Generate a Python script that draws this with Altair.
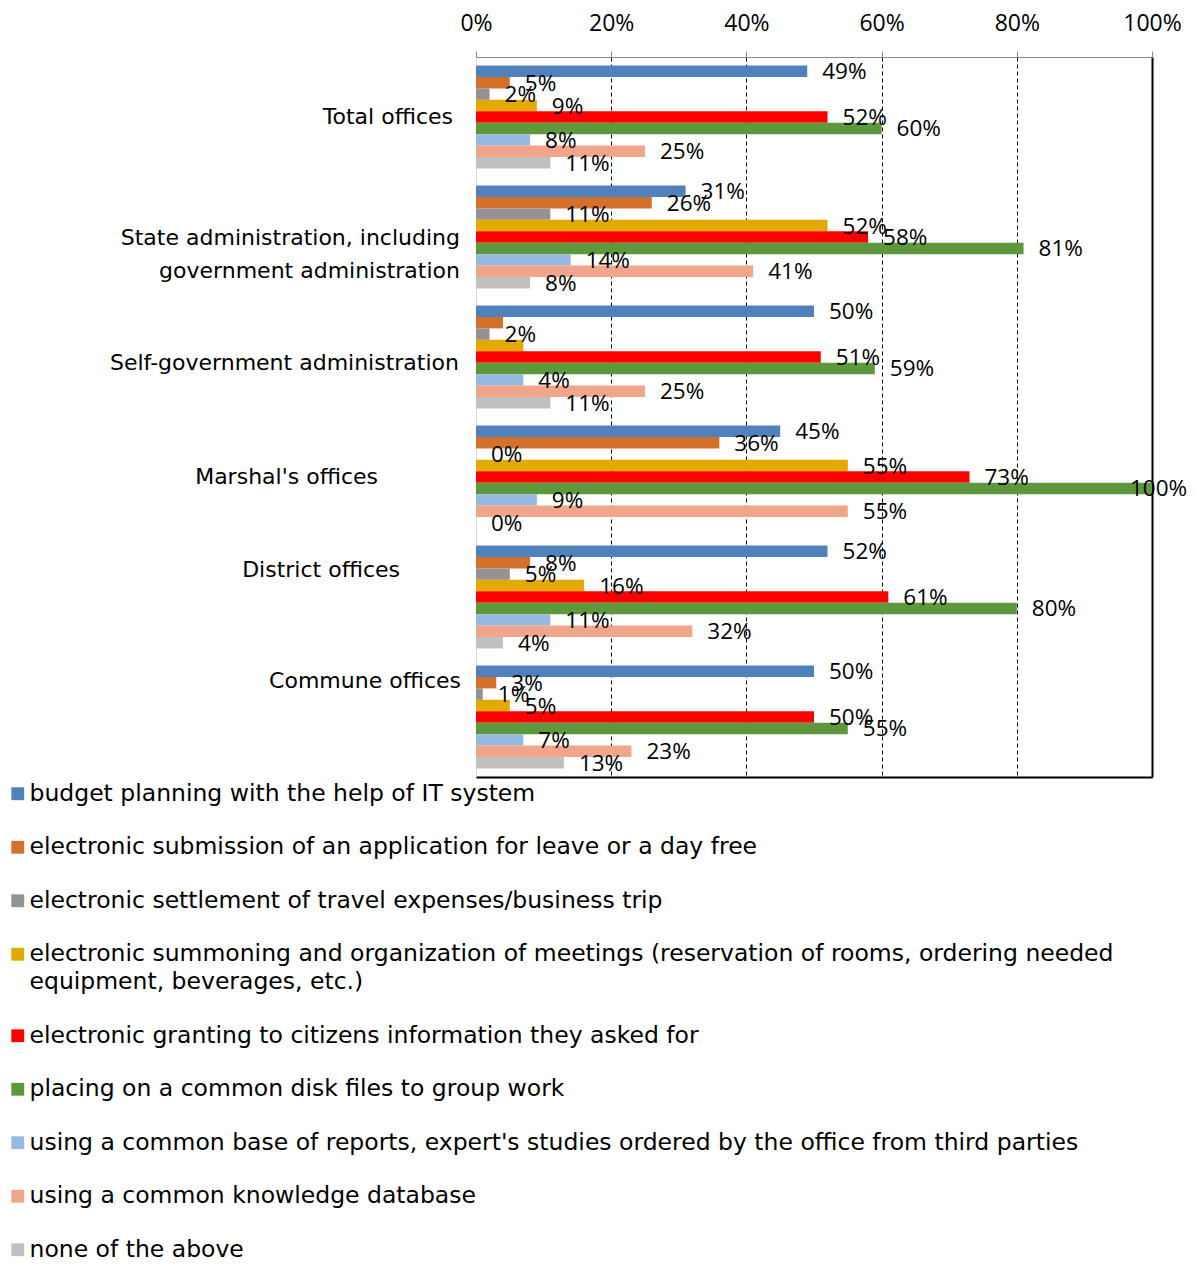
import json
import altair as alt
import pandas as pd

categories = [
    "Total offices",
    "State administration, including government administration",
    "Self-government administration",
    "Marshal's offices",
    "District offices",
    "Commune offices",
]
series = [
    "budget planning with the help of IT system",
    "electronic submission of an application for leave or a day free",
    "electronic settlement of travel expenses/business trip",
    "electronic summoning and organization of meetings (reservation of rooms, ordering needed equipment, beverages, etc.)",
    "electronic granting to citizens information they asked for",
    "placing on a common disk files to group work",
    "using a common base of reports, expert's studies ordered by the office from third parties",
    "using a common knowledge database",
    "none of the above",
]
budget = [49, 31, 50, 45, 52, 50]
leave = [5, 26, 4, 36, 8, 3]
travel = [2, 11, 2, 0, 5, 1]
meetings = [9, 52, 7, 55, 16, 5]
granting = [52, 58, 51, 73, 61, 50]
disk = [60, 81, 59, 100, 80, 55]
reports = [8, 14, 7, 9, 11, 7]
knowledge = [25, 41, 25, 55, 32, 23]
none_above = [11, 8, 11, 0, 4, 13]
values = [budget, leave, travel, meetings, granting, disk, reports, knowledge, none_above]

# label text shown in the reference ("" = no label printed)
label_override = {
    (categories[2], series[1]): "",
    (categories[2], series[3]): "",
    (categories[2], series[6]): "4%",
}

colors = ["#4F81BD", "#D3702C", "#939393", "#E2A900", "#FF0000",
          "#5E983C", "#97B8DF", "#F0A68A", "#C0C0C0"]

rows = []
for s, vals in zip(series, values):
    for c, v in zip(categories, vals):
        rows.append({"category": c, "series": s, "value": v,
                     "label": label_override.get((c, s), f"{v}%")})
df = pd.DataFrame(rows)
cat_df = pd.DataFrame({"category": categories})

NUM_FONT = "Open Sans"
TXT_FONT = "DejaVu Sans"

# per-category label placement (style): x shift from axis, y shift from band centre
lab_dx = {categories[0]: -23, categories[1]: -16, categories[2]: -17,
          categories[3]: -98, categories[4]: -76, categories[5]: -15}
lab_dy = {categories[0]: 0, categories[1]: 1, categories[2]: 6,
          categories[3]: 0, categories[4]: -27, categories[5]: -36}

def per_cat_expr(mapping, default=0):
    e = str(default)
    for k, v in reversed(list(mapping.items())):
        e = f"datum.category === {json.dumps(k)} ? {v} : ({e})"
    return e

wrap_cat = categories[1]
cat_text_expr = (f"datum.category === {json.dumps(wrap_cat)} ? "
                 "['State administration, including', 'government administration'] : datum.category")

wrap = series[3]
legend_expr = (f"datum.label === {json.dumps(wrap)} ? "
               "['electronic summoning and organization of meetings (reservation of rooms, ordering needed', "
               "'equipment, beverages, etc.)'] : datum.label")

y_scale = alt.Scale(paddingInner=0.142, paddingOuter=0.071)
yoff = alt.YOffset("series:N", sort=series,
                   scale=alt.Scale(paddingInner=0, paddingOuter=0))

x_axis = alt.Axis(
    orient="top", title=None, values=[0, 20, 40, 60, 80, 100],
    labelExpr="datum.value + '%'", labelFont=NUM_FONT, labelFontSize=23,
    labelColor="black", labelPadding=16, labelFlush=False, labelLineHeight=24,
    tickSize=6, tickColor="#888888", domainColor="#888888", grid=True, gridColor="black",
    gridDash={"condition": {"test": "datum.value === 100", "value": []}, "value": [4, 3]},
    gridWidth={"condition": {"test": "datum.value === 100", "value": 2}, "value": 1},
    gridOpacity={"condition": {"test": "datum.value === 0", "value": 0}, "value": 1},
)
x_scale = alt.Scale(domain=[0, 100])

bars = alt.Chart(df).mark_bar().encode(
    x=alt.X("value:Q", scale=x_scale, axis=x_axis),
    y=alt.Y("category:N", sort=categories, scale=y_scale,
            axis=alt.Axis(title=None, labels=False, tickBand="extent", tickSize=6,
                          tickColor="#888888", domainColor="#888888")),
    yOffset=yoff,
    color=alt.Color(
        "series:N", sort=series,
        scale=alt.Scale(domain=series, range=colors),
        legend=alt.Legend(
            title=None, orient="none", legendX=-470, legendY=725,
            direction="vertical", columns=1, symbolType="square",
            symbolSize=165, symbolStrokeWidth=0, labelFont=TXT_FONT,
            labelFontSize=23.5, labelColor="black", labelLimit=1200,
            labelOffset=0, rowPadding=28.5, labelExpr=legend_expr,
        ),
    ),
)

texts = alt.Chart(df).mark_text(
    align="left", baseline="middle", dy=1, font=NUM_FONT, fontSize=22.5,
    color="black", dx={"expr": "datum.value >= 100 ? -22 : 15"},
).encode(
    x=alt.X("value:Q", scale=x_scale,
            axis=alt.Axis(orient="bottom", title=None, labels=False, ticks=False,
                          grid=False, domainColor="black", domainWidth=2)),
    y=alt.Y("category:N", sort=categories, axis=None),
    yOffset=yoff,
    text="label:N",
)

cat_labels = alt.Chart(cat_df).transform_calculate(
    txt=cat_text_expr
).mark_text(
    align="right", baseline="middle", font=TXT_FONT, fontSize=22, color="black",
    lineHeight=33,
    dx={"expr": per_cat_expr(lab_dx)}, dy={"expr": per_cat_expr(lab_dy)},
).encode(
    x=alt.value(0),
    y=alt.Y("category:N", sort=categories, axis=None),
    text="txt:N",
)

chart = alt.layer(bars, texts, cat_labels).resolve_axis(x="independent").properties(
    width=676, height=720,
    autosize=alt.AutoSizeParams(type="none"),
    padding={"left": 468, "top": 49, "right": 36, "bottom": 485},
).configure_view(stroke=None).configure(style={"guide-label": {"lineHeight": 28}})

chart.save("out.html", embed_options={"renderer": "svg", "actions": False})
